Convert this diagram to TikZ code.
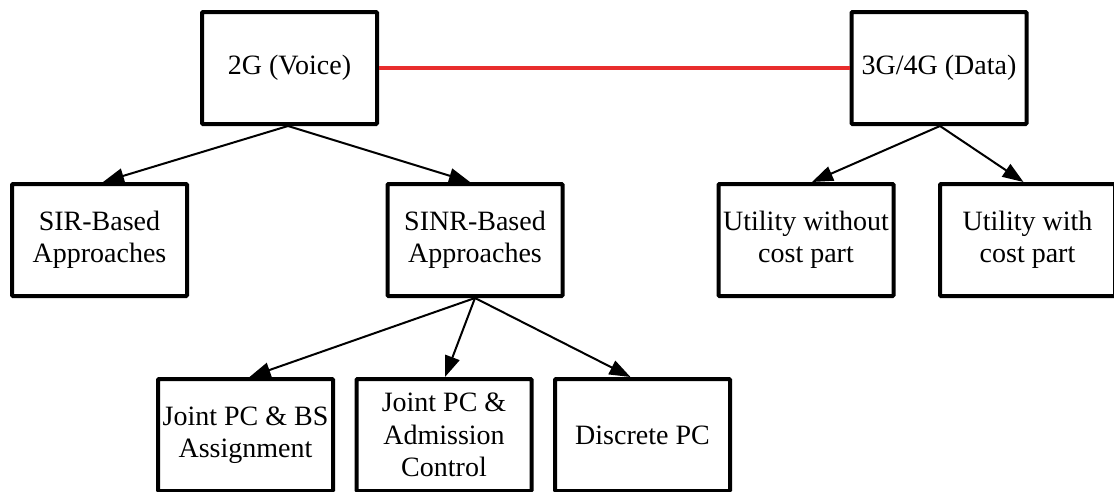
\documentclass[tikz,border=0pt]{standalone}
\usepackage{fontspec}
\setmainfont{Liberation Serif}
\usetikzlibrary{arrows.meta}
\definecolor{linkred}{RGB}{232,45,45}
\tikzset{
  box/.style={draw=black, line width=4pt, minimum width=175pt, minimum height=112pt,
    inner sep=0pt, align=center, font=\fontsize{28}{32.5}\selectfont, rounded corners=1pt},
  edge/.style={line width=2pt, -{Triangle[length=21pt,width=15pt]}},
  link/.style={linkred, line width=4pt}
}
\begin{document}
\begin{tikzpicture}[x=1pt,y=-1pt]
\useasboundingbox (0,0) rectangle (1114,491);
\fill[white] (0,0) rectangle (1114,491);
\clip (0,0) rectangle (1114,491);
\node[box] (v2g) at (289.5,68) {2G (Voice)};
\node[box] (v3g) at (939,68) {3G/4G (Data)};
\node[box] (sir) at (99.5,240) {SIR-Based\\Approaches};
\node[box] (sinr) at (475,240) {SINR-Based\\Approaches};
\node[box] (uwo) at (806,240) {Utility without\\cost part};
\node[box] (uw) at (1027.5,240) {Utility with\\cost part};
\node[box] (jbs) at (245.5,435) {Joint PC \& BS\\Assignment};
\node[box] (jac) at (444,435) {Joint PC \&\\Admission\\Control};
\node[box] (dpc) at (642.5,435) {Discrete PC};
\draw[link] (v2g.east) -- (v3g.west);
\draw[edge] ([xshift=-1.5pt]v2g.south) -- ([xshift=3.5pt]sir.north);
\draw[edge] ([xshift=-1.5pt]v2g.south) -- ([xshift=-5pt]sinr.north);
\draw[edge] ([xshift=1pt]v3g.south) -- ([xshift=6pt]uwo.north);
\draw[edge] ([xshift=1pt]v3g.south) -- ([xshift=-4pt]uw.north);
\draw[edge] (sinr.south) -- ([xshift=4pt]jbs.north);
\draw[edge] (sinr.south) -- ([xshift=1pt]jac.north);
\draw[edge] (sinr.south) -- ([xshift=-12pt]dpc.north);
\end{tikzpicture}
\end{document}
